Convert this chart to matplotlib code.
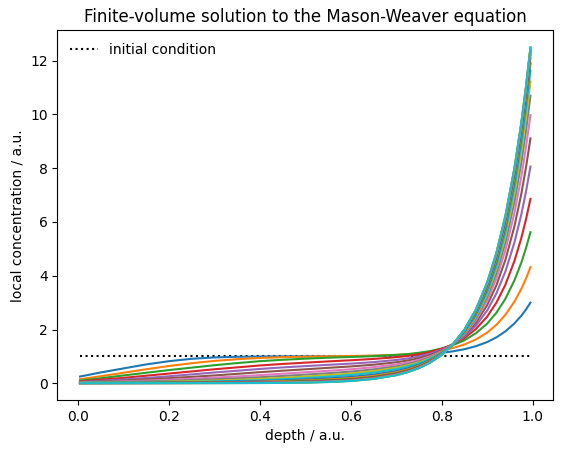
import matplotlib
matplotlib.use('Agg')
import matplotlib.pyplot as plt

# cell-centre depths
depth = [0.005, 0.05, 0.1, 0.15, 0.2, 0.25, 0.3, 0.35, 0.4, 0.45, 0.5, 0.55,
         0.6, 0.65, 0.7, 0.725, 0.75, 0.775, 0.8, 0.825, 0.85, 0.875, 0.9,
         0.92, 0.94, 0.96, 0.975, 0.985, 0.995]

initial_x = [0.005, 0.995]
initial_c = [1.0, 1.0]

# concentration profiles, one per time step
c01 = [0.25, 0.40, 0.55, 0.70, 0.82, 0.91, 0.96, 0.985, 0.995, 1.001, 1.002,
       1.004, 1.008, 1.017, 1.033, 1.047, 1.067, 1.094, 1.133, 1.189, 1.267,
       1.378, 1.534, 1.706, 1.932, 2.23, 2.514, 2.74, 3.0]
c02 = [0.15, 0.26, 0.39, 0.52, 0.64, 0.745, 0.83, 0.895, 0.941, 0.97, 0.988,
       1.002, 1.014, 1.028, 1.055, 1.078, 1.111, 1.156, 1.221, 1.313, 1.443,
       1.627, 1.886, 2.172, 2.547, 3.042, 3.513, 3.888, 4.32]
c03 = [0.10, 0.185, 0.29, 0.39, 0.49, 0.58, 0.67, 0.75, 0.821, 0.872, 0.915,
       0.95, 0.979, 1.008, 1.057, 1.084, 1.134, 1.198, 1.292, 1.42, 1.602,
       1.859, 2.221, 2.62, 3.144, 3.835, 4.493, 5.017, 5.62]
c04 = [0.07, 0.13, 0.20, 0.28, 0.36, 0.44, 0.52, 0.59, 0.662, 0.718, 0.766,
       0.813, 0.855, 0.905, 0.969, 1.016, 1.079, 1.165, 1.285, 1.45, 1.684,
       2.016, 2.482, 2.995, 3.67, 4.56, 5.409, 6.084, 6.86]
c05 = [0.05, 0.09, 0.14, 0.195, 0.26, 0.33, 0.40, 0.465, 0.532, 0.589, 0.638,
       0.685, 0.73, 0.786, 0.866, 0.922, 0.998, 1.103, 1.248, 1.45, 1.736,
       2.141, 2.711, 3.338, 4.163, 5.25, 6.287, 7.111, 8.06]
c06 = [0.04, 0.068, 0.10, 0.143, 0.19, 0.238, 0.29, 0.35, 0.412, 0.467, 0.519,
       0.573, 0.625, 0.69, 0.78, 0.845, 0.932, 1.05, 1.216, 1.45, 1.782,
       2.251, 2.911, 3.638, 4.594, 5.854, 7.055, 8.011, 9.11]
c07 = [0.03, 0.048, 0.07, 0.098, 0.13, 0.168, 0.21, 0.253, 0.302, 0.355, 0.41,
       0.463, 0.519, 0.598, 0.701, 0.772, 0.869, 1.003, 1.189, 1.45, 1.819,
       2.342, 3.077, 3.887, 4.951, 6.354, 7.691, 8.756, 9.98]
c08 = [0.025, 0.036, 0.05, 0.068, 0.09, 0.118, 0.15, 0.183, 0.223, 0.27, 0.321,
       0.373, 0.432, 0.515, 0.63, 0.711, 0.82, 0.965, 1.167, 1.45, 1.85,
       2.417, 3.214, 4.092, 5.246, 6.768, 8.218, 9.372, 10.7]
c09 = [0.02, 0.027, 0.035, 0.046, 0.06, 0.078, 0.10, 0.127, 0.163, 0.203, 0.251,
       0.303, 0.364, 0.45, 0.579, 0.665, 0.779, 0.936, 1.151, 1.45, 1.873,
       2.472, 3.313, 4.241, 5.46, 7.067, 8.599, 9.818, 11.22]
c10 = [0.015, 0.019, 0.025, 0.031, 0.04, 0.053, 0.07, 0.088, 0.113, 0.147,
       0.192, 0.244, 0.306, 0.393, 0.526, 0.62, 0.744, 0.911, 1.139, 1.45,
       1.89, 2.513, 3.389, 4.355, 5.624, 7.297, 8.891, 10.16, 11.62]
c11 = [0.011, 0.014, 0.018, 0.022, 0.029, 0.038, 0.049, 0.062, 0.080, 0.104,
       0.139, 0.181, 0.235, 0.319, 0.454, 0.553, 0.686, 0.866, 1.114, 1.451,
       1.923, 2.585, 3.505, 4.509, 5.817, 7.529, 9.148, 10.43, 11.90]
c12 = [0.008, 0.010, 0.013, 0.017, 0.021, 0.028, 0.036, 0.045, 0.058, 0.077,
       0.104, 0.140, 0.190, 0.271, 0.407, 0.510, 0.649, 0.838, 1.097, 1.452,
       1.945, 2.631, 3.580, 4.608, 5.941, 7.678, 9.314, 10.605, 12.08]
c13 = [0.006, 0.008, 0.010, 0.013, 0.016, 0.021, 0.026, 0.033, 0.043, 0.057,
       0.079, 0.111, 0.157, 0.236, 0.374, 0.479, 0.623, 0.817, 1.085, 1.453,
       1.960, 2.664, 3.634, 4.679, 6.031, 7.785, 9.433, 10.73, 12.21]
c14 = [0.005, 0.006, 0.008, 0.010, 0.012, 0.016, 0.020, 0.025, 0.032, 0.043,
       0.062, 0.090, 0.134, 0.212, 0.351, 0.458, 0.604, 0.803, 1.077, 1.453,
       1.971, 2.687, 3.672, 4.728, 6.093, 7.860, 9.516, 10.817, 12.30]
c15 = [0.004, 0.005, 0.006, 0.008, 0.009, 0.012, 0.015, 0.019, 0.024, 0.033,
       0.049, 0.075, 0.117, 0.194, 0.333, 0.441, 0.590, 0.792, 1.071, 1.453,
       1.979, 2.705, 3.701, 4.767, 6.141, 7.917, 9.580, 10.884, 12.37]
c16 = [0.003, 0.004, 0.005, 0.006, 0.007, 0.009, 0.011, 0.014, 0.018, 0.025,
       0.039, 0.063, 0.104, 0.180, 0.320, 0.429, 0.579, 0.784, 1.066, 1.454,
       1.985, 2.718, 3.722, 4.794, 6.176, 7.959, 9.626, 10.933, 12.42]
c17 = [0.003, 0.003, 0.004, 0.005, 0.006, 0.007, 0.009, 0.011, 0.014, 0.021,
       0.034, 0.056, 0.097, 0.172, 0.312, 0.422, 0.573, 0.779, 1.064, 1.454,
       1.989, 2.725, 3.734, 4.810, 6.196, 7.984, 9.654, 10.962, 12.45]
c18 = [0.002, 0.003, 0.004, 0.0044, 0.005, 0.006, 0.007, 0.009, 0.012, 0.018,
       0.030, 0.052, 0.092, 0.167, 0.307, 0.417, 0.569, 0.776, 1.062, 1.454,
       1.991, 2.730, 3.743, 4.822, 6.210, 8.000, 9.672, 10.981, 12.47]
c19 = [0.002, 0.0025, 0.003, 0.0038, 0.004, 0.005, 0.006, 0.0074, 0.009,
       0.0145, 0.026, 0.047, 0.086, 0.162, 0.301, 0.412, 0.565, 0.773, 1.060,
       1.454, 1.994, 2.736, 3.751, 4.833, 6.224, 8.017, 9.691, 11.001, 12.49]
c20 = [0.002, 0.0025, 0.003, 0.0035, 0.004, 0.0045, 0.005, 0.0065, 0.008,
       0.013, 0.024, 0.045, 0.084, 0.159, 0.299, 0.410, 0.563, 0.771, 1.059,
       1.454, 1.995, 2.738, 3.755, 4.838, 6.231, 8.025, 9.70, 11.01, 12.5]

profiles = [c01, c02, c03, c04, c05, c06, c07, c08, c09, c10,
            c11, c12, c13, c14, c15, c16, c17, c18, c19, c20]


def main():
    fig = plt.figure(figsize=(5.63, 4.53), dpi=100)
    ax = fig.add_axes([0.1021, 0.117, 0.8801, 0.8157])

    # Initial condition first, so the profiles are drawn over it
    ax.plot(initial_x, initial_c, 'k:', label='initial condition')

    for i, conc in enumerate(profiles):
        ax.plot(depth, conc, color='C{0}'.format(i % 10))

    ax.set_xlabel('depth / a.u.')
    ax.set_ylabel('local concentration / a.u.')
    ax.set_title('Finite-volume solution to the Mason-Weaver equation')
    ax.legend(loc='upper left', frameon=False)

    fig.savefig('out.png', dpi=100)


if __name__ == '__main__':
    main()
